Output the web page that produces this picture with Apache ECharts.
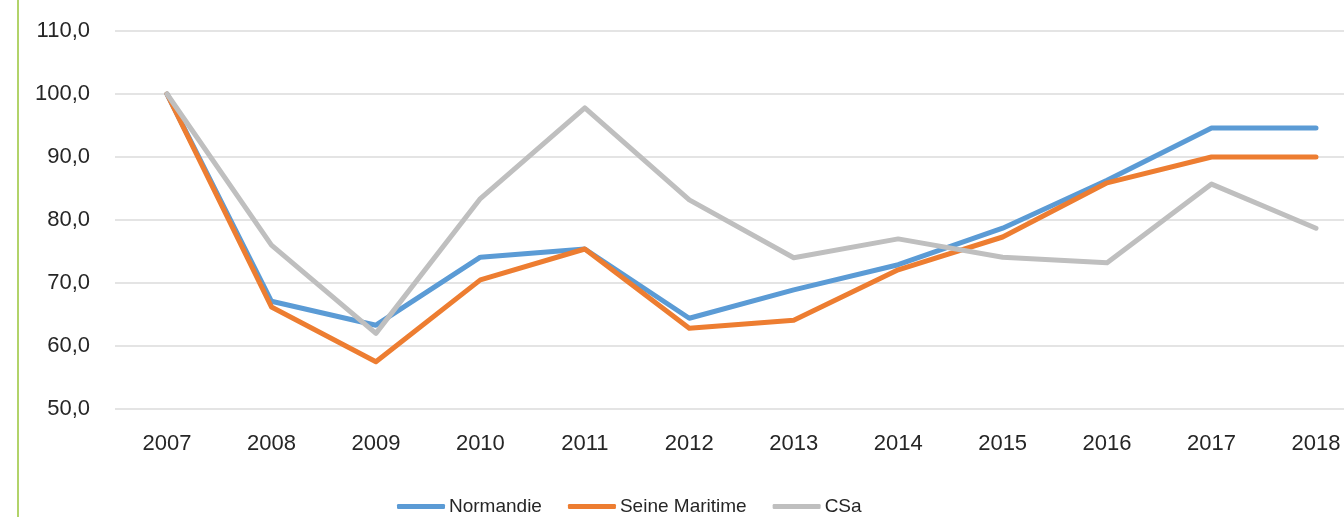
<!doctype html>
<html lang="fr">
<head>
    <meta charset="UTF-8">
    <title>Indice</title>
    <style>
        *{
            margin:0;
            padding:0;
        }
        html,body {
            height:100%;
            background:#fff;
        }
        #main{
            width:1344px;
            height:517px;
        }
    </style>
</head>
<body>

<div id="main"></div>
<script src="https://cdn.jsdelivr.net/npm/echarts@6/dist/echarts.min.js"></script>
<script>

    var years = ['2007', '2008', '2009', '2010', '2011', '2012', '2013', '2014', '2015', '2016', '2017', '2018'];
    var normandie = [100, 67.1, 63.3, 74.1, 75.4, 64.4, 68.9, 72.9, 78.7, 86.3, 94.6, 94.6];
    var seineMaritime = [100, 66.2, 57.5, 70.5, 75.4, 62.8, 64.1, 72.1, 77.3, 85.9, 90.0, 90.0];
    var csa = [100, 76.0, 62.0, 83.4, 97.8, 83.2, 74.0, 77.0, 74.1, 73.2, 85.7, 78.7];

    var font = 'Liberation Sans';
    var textColor = '#262626';

    var myChart = echarts.init(document.getElementById('main'));

    function line(name, data, color) {
        return {
            name: name,
            type: 'line',
            data: data,
            symbol: 'none',
            lineStyle: {
                width: 5,
                color: color,
                join: 'round',
                cap: 'round'
            },
            itemStyle: {color: color}
        };
    }

    myChart.setOption({
        animation: false,
        grid: [
            // plot area (points sit on the category ticks)
            {left: 167, top: 31, right: 28, height: 378},
            // wider area only used for the horizontal gridlines
            {left: 115, top: 31, right: 0, height: 378}
        ],
        legend: {
            bottom: -4,
            left: 392,
            itemWidth: 48,
            itemHeight: 5,
            itemGap: 26,
            icon: 'roundRect',
            textStyle: {
                fontFamily: font,
                fontSize: 19,
                color: textColor,
                padding: [0, 0, 0, -1]
            },
            data: ['Normandie', 'Seine Maritime', 'CSa']
        },
        xAxis: [{
            type: 'category',
            gridIndex: 0,
            data: years,
            boundaryGap: false,
            axisLine: {show: false},
            axisTick: {show: false},
            splitLine: {show: false},
            axisLabel: {
                margin: 24,
                fontFamily: font,
                fontSize: 22,
                color: textColor
            }
        }, {
            type: 'value',
            gridIndex: 1,
            show: false
        }],
        yAxis: [{
            type: 'value',
            gridIndex: 0,
            min: 50,
            max: 110,
            interval: 10,
            axisLine: {show: false},
            axisTick: {show: false},
            splitLine: {show: false},
            axisLabel: {
                margin: 77,
                fontFamily: font,
                fontSize: 22,
                color: textColor,
                formatter: function (v) {
                    return v.toFixed(1).replace('.', ',');
                }
            }
        }, {
            type: 'value',
            gridIndex: 1,
            min: 50,
            max: 110,
            interval: 10,
            axisLine: {show: false},
            axisTick: {show: false},
            axisLabel: {show: false},
            splitLine: {
                lineStyle: {color: '#e4e4e4', width: 2}
            }
        }],
        graphic: [{
            type: 'line',
            shape: {x1: 18, y1: 0, x2: 18, y2: 517},
            style: {stroke: '#b2d36a', lineWidth: 2}
        }],
        series: [
            line('Normandie', normandie, '#5b9bd5'),
            line('Seine Maritime', seineMaritime, '#ed7d31'),
            line('CSa', csa, '#bfbfbf')
        ]
    });

</script>
</body>
</html>
